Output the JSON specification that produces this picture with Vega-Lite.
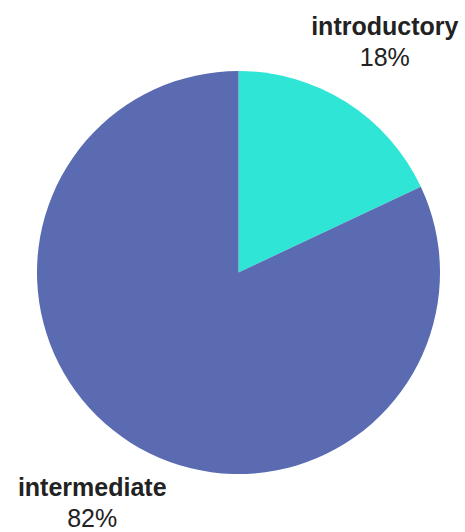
{
  "$schema": "https://vega.github.io/schema/vega-lite/v6.json",
  "width": 453,
  "height": 519,
  "padding": {"left": 12, "top": 13, "right": 0, "bottom": 0},
  "autosize": {"type": "none"},
  "background": "white",
  "config": {"view": {"stroke": null}, "font": "Liberation Sans"},
  "data": {
    "values": [
      {"category": "introductory", "share": 0.18},
      {"category": "intermediate", "share": 0.82}
    ]
  },
  "encoding": {
    "theta": {"field": "share", "type": "quantitative", "stack": true},
    "order": {"field": "category", "sort": "descending"}
  },
  "layer": [
    {
      "mark": {"type": "arc", "outerRadius": 201.5},
      "encoding": {
        "color": {
          "field": "category",
          "type": "nominal",
          "scale": {"domain": ["introductory", "intermediate"], "range": ["#2FE6D6", "#5A6BB2"]},
          "legend": null
        }
      }
    },
    {
      "mark": {"type": "text", "radius": 273, "dy": -15, "fontWeight": "bold", "fontSize": 25, "color": "#222222", "baseline": "middle", "align": "center"},
      "encoding": {"text": {"field": "category"}}
    },
    {
      "mark": {"type": "text", "radius": 273, "dy": 16, "fontSize": 25, "color": "#222222", "baseline": "middle", "align": "center"},
      "encoding": {"text": {"field": "share", "format": ".0%"}}
    }
  ]
}
